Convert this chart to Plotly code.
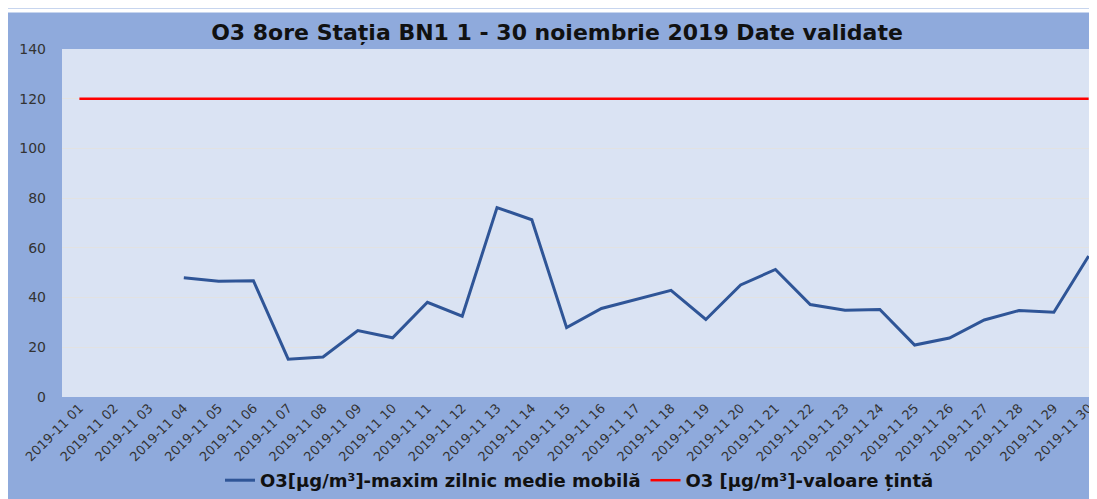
import plotly.graph_objects as go

dates = ["2019-11 %02d" % d for d in range(1, 31)]
o3_max = [None, None, None, 48.0, 46.6, 46.8, 15.2, 16.1, 26.7, 23.8,
          38.1, 32.5, 76.2, 71.3, 27.9, 35.6, 39.4, 42.9, 31.2, 45.1,
          51.3, 37.2, 34.9, 35.2, 20.9, 23.7, 31.0, 34.8, 34.1, 56.7]
target = [120] * 30
series_names = ["O3[µg/m³]-maxim zilnic medie mobilă", "O3 [µg/m³]-valoare țintă"]
title_text = "O3 8ore Stația BN1 1 - 30 noiembrie 2019 Date validate"

# page has an 8px body margin, so the figure is sized to end at the window edge
W, H = 1089, 491
L, R, T, B = 54, 0, 41, 97
pw, ph = W - L - R, H - T - B

fig = go.Figure()
fig.add_trace(go.Scatter(x=dates, y=o3_max, mode="lines", name=series_names[0],
                         line=dict(color="#2F5597", width=3), connectgaps=False))
fig.add_trace(go.Scatter(x=dates, y=target, mode="lines", name=series_names[1],
                         line=dict(color="#FF0000", width=2.5)))

def px_x(p):
    return (p - L) / pw

def px_y(p):
    return (H - B - p) / ph

shapes = [
    dict(type="rect", xref="paper", yref="paper", x0=px_x(0), x1=px_x(W), y0=px_y(4), y1=px_y(0),
         fillcolor="white", line=dict(width=0), layer="below"),
]

FONT = "DejaVu Sans, Liberation Sans, Arial, sans-serif"

fig.update_layout(
    width=W, height=H,
    margin=dict(l=L, r=R, t=T, b=B),
    paper_bgcolor="#8FAADC",
    plot_bgcolor="#DAE3F3",
    font=dict(family=FONT, color="#404040"),
    title=dict(text="<b>" + title_text + "</b>", x=549 / W, xanchor="center",
               y=1 - 24 / H, yanchor="middle",
               font=dict(size=22, color="#111111", family=FONT)),
    showlegend=True,
    legend=dict(orientation="h", x=0.5, xanchor="center", y=px_y(479), yanchor="middle",
                font=dict(size=18, color="#111111", family=FONT, weight="bold"),
                bgcolor="rgba(0,0,0,0)", itemwidth=30, tracegroupgap=0),
    shapes=shapes,
    xaxis=dict(type="category", range=[-0.5, 29.24], tickangle=-45,
               tickfont=dict(size=13, color="#333333", family=FONT), showgrid=False,
               showline=False, zeroline=False, ticks=""),
    yaxis=dict(range=[0, 140], dtick=20, tickfont=dict(size=14, color="#333333", family=FONT),
               showgrid=True, gridcolor="#E2E2E2", gridwidth=1, zeroline=False,
               showline=False, ticks="", ticklabelstandoff=15),
)

fig.write_html("out.html")
